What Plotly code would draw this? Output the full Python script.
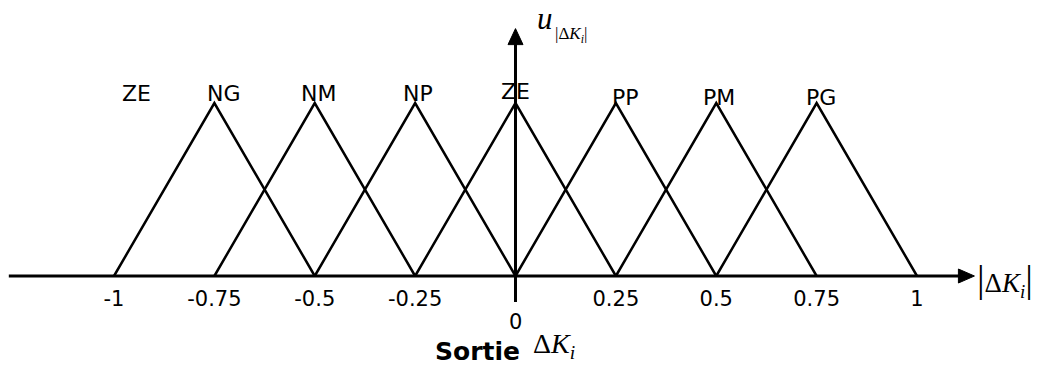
import plotly.graph_objects as go

# Output membership functions (triangular fuzzy sets)
set_names = ["NG", "NM", "NP", "ZE", "PP", "PM", "PG"]
set_centers = [-0.75, -0.5, -0.25, 0.0, 0.25, 0.5, 0.75]
half_width = 0.25
peak_degree = 1.0

# extra set label written at the left end of the universe
extra_label = "ZE"
extra_label_at = -1.0

tick_values = [-1, -0.75, -0.5, -0.25, 0, 0.25, 0.5, 0.75, 1]
tick_labels = ["-1", "-0.75", "-0.5", "-0.25", "0", "0.25", "0.5", "0.75", "1"]

# ---- canvas / scale setup ----
W, H = 1048, 369
X_ORIGIN_PX, X_UNIT_PX = 515.5, 401.5      # pixel of x=0 and pixels per unit
Y_ORIGIN_PX, Y_UNIT_PX = 276.0, 173.0      # pixel of y=0 and pixels per unit

x_range = [-X_ORIGIN_PX / X_UNIT_PX, (W - X_ORIGIN_PX) / X_UNIT_PX]
y_range = [(Y_ORIGIN_PX - H) / Y_UNIT_PX, Y_ORIGIN_PX / Y_UNIT_PX]

# axis extents (data units)
x_axis_from, x_axis_to = -1.262, 1.143
y_axis_from, y_axis_to = -0.15, 1.43


def px_to_paper(x, y):
    return x / W, 1 - y / H


LINE = "black"
SANS = "DejaVu Sans"
SERIF = "Liberation Serif"

fig = go.Figure()

# triangles
for name, c in zip(set_names, set_centers):
    fig.add_trace(go.Scatter(
        x=[c - half_width, c, c + half_width],
        y=[0, peak_degree, 0],
        mode="lines",
        line=dict(color=LINE, width=2.5),
        name=name,
        hoverinfo="name",
    ))

# axes lines
fig.add_shape(type="line", xref="x", yref="y",
              x0=x_axis_from, x1=x_axis_to - 0.02, y0=0, y1=0,
              line=dict(color=LINE, width=3))
fig.add_shape(type="line", xref="x", yref="y",
              x0=0, x1=0, y0=y_axis_from, y1=y_axis_to - 0.04,
              line=dict(color=LINE, width=3))
# arrowheads (sized in pixels, anchored at the axis tips)
fig.add_shape(type="path", xref="x", yref="y",
              xsizemode="pixel", ysizemode="pixel",
              xanchor=x_axis_to, yanchor=0,
              path="M0,0 L-16,7 L-16,-7 Z",
              fillcolor=LINE, line=dict(color=LINE, width=1))
fig.add_shape(type="path", xref="x", yref="y",
              xsizemode="pixel", ysizemode="pixel",
              xanchor=0, yanchor=y_axis_to,
              path="M0,0 L-7.5,-16 L7.5,-16 Z",
              fillcolor=LINE, line=dict(color=LINE, width=1))

# set names above the peaks
label_dx = [10, 4, 3, 0, 10, 3, 4]
label_dy = [10, 10, 10, 12, 6, 6, 6]
for name, c, dx, dy in zip(set_names, set_centers, label_dx, label_dy):
    fig.add_annotation(
        x=c, y=peak_degree, xref="x", yref="y",
        text=name, showarrow=False, xshift=dx, yshift=dy,
        yanchor="middle", font=dict(family=SANS, size=22, color=LINE),
    )
fig.add_annotation(
    x=extra_label_at, y=peak_degree, xref="x", yref="y",
    text=extra_label, showarrow=False, xshift=22, yshift=10,
    yanchor="middle", font=dict(family=SANS, size=22, color=LINE),
)

# tick labels: the origin label sits lower, below the vertical axis stub
axis_ticks = [(v, t) for v, t in zip(tick_values, tick_labels) if v != 0]
origin_label = [t for v, t in zip(tick_values, tick_labels) if v == 0][0]
fig.add_annotation(x=0, y=0, xref="x", yref="y", text=origin_label,
                   showarrow=False, yshift=-46, yanchor="middle",
                   font=dict(family=SANS, size=21, color=LINE))

# axis symbols
xp, yp = px_to_paper(535, 19)
fig.add_annotation(x=xp, y=yp, xref="paper", yref="paper", text="<i>u</i>",
                   showarrow=False, xanchor="left", yanchor="middle",
                   font=dict(family=SERIF, size=31, color=LINE))
xp, yp = px_to_paper(553, 35)
fig.add_annotation(x=xp, y=yp, xref="paper", yref="paper",
                   text="|Δ<i>K</i><sub><i>i</i></sub>|",
                   showarrow=False, xanchor="left", yanchor="middle",
                   font=dict(family=SERIF, size=17, color=LINE))
xp, yp = px_to_paper(975, 280)
fig.add_annotation(x=xp, y=yp, xref="paper", yref="paper",
                   text="<span style='font-size:38px'>|</span>Δ<i>K</i><sub><i>i</i></sub><span style='font-size:38px'>|</span>",
                   showarrow=False, xanchor="left", yanchor="middle",
                   font=dict(family=SERIF, size=27, color=LINE))

# output caption
xp, yp = px_to_paper(477, 351)
fig.add_annotation(x=xp, y=yp, xref="paper", yref="paper", text="<b>Sortie</b>",
                   showarrow=False, xanchor="center", yanchor="middle",
                   font=dict(family=SANS, size=25, color=LINE))
xp, yp = px_to_paper(531, 345)
fig.add_annotation(x=xp, y=yp, xref="paper", yref="paper",
                   text="Δ<i>K</i><sub><i>i</i></sub>",
                   showarrow=False, xanchor="left", yanchor="middle",
                   font=dict(family=SERIF, size=28, color=LINE))

axis_pos = 1 - Y_ORIGIN_PX / H
fig.update_layout(
    width=W, height=H,
    margin=dict(l=0, r=0, t=0, b=0),
    paper_bgcolor="white", plot_bgcolor="white",
    showlegend=False,
    xaxis=dict(
        range=x_range, anchor="free", position=axis_pos,
        tickvals=[v for v, _ in axis_ticks],
        ticktext=[t for _, t in axis_ticks],
        showgrid=False, zeroline=False, showline=False, ticks="",
        ticklabelstandoff=8,
        tickfont=dict(family=SANS, size=21, color=LINE),
        fixedrange=True,
    ),
    yaxis=dict(range=y_range, visible=False, fixedrange=True),
)

fig.write_html("out.html")
